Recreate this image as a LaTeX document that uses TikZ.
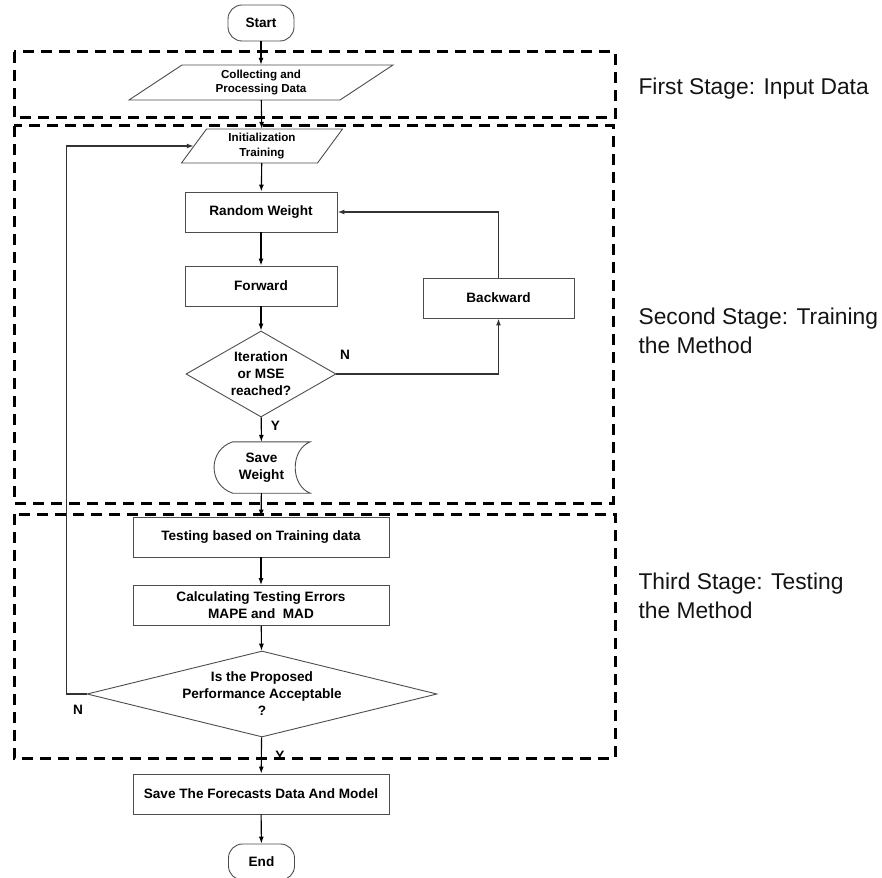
\documentclass[tikz,border=0pt]{standalone}
\usepackage{fontspec}
\setmainfont{Liberation Sans}
\usetikzlibrary{shapes.geometric,arrows.meta,calc}
\newcommand\flowfnt{\bfseries\fontsize{13.6}{17}\selectfont}
\newcommand\smallflowfnt{\bfseries\fontsize{11.6}{14.7}\selectfont}
\newcommand\stagefnt{\fontsize{22.8}{29}\selectfont}
\begin{document}
\begin{tikzpicture}[x=1pt,y=-1pt,
  outl/.style={draw=black!70, line width=0.9pt},
  procbox/.style={outl, minimum width=#1, minimum height=40pt, inner sep=0pt, align=center, font=\flowfnt},
  termbox/.style={outl, rounded corners=14pt, minimum width=66pt, minimum height=36pt, inner sep=0pt, font=\flowfnt},
  decision/.style={outl, diamond, inner sep=0pt, align=center, font=\flowfnt},
  plainshape/.style={inner sep=0pt, align=center},
  arr/.style={draw=black, line width=1.1pt, -{Latex[length=7pt,width=5pt]}},
  loopline/.style={draw=black!80, line width=1.4pt, -{Latex[length=7pt,width=5pt]}},
  stagebox/.style={draw=black, line width=3pt, dash pattern=on 11pt off 7pt},
  stagetext/.style={anchor=base west, align=left, font=\stagefnt, text=black!92},
  yn/.style={font=\flowfnt, inner sep=0pt}
]
\useasboundingbox (0,0) rectangle (882,877);

% stage frames
\draw[stagebox] (14,52) rectangle (615,118);
\draw[stagebox] (14,126) rectangle (613,503);
\draw[stagebox] (14,514) rectangle (615,758);

% stage labels
\node[stagetext] (s1) at (635,95) {First Stage: Input Data};
\node[stagetext] (s2) at (635,353) {Second Stage: Training\\the Method};
\node[stagetext] (s3) at (635,618) {Third Stage: Testing\\the Method};

% nodes
\node[termbox] (start) at (261,23) {Start};

\node[plainshape, minimum width=211pt, minimum height=35pt, font=\smallflowfnt] (collect) at (261,82.5) {Collecting and\\Processing Data};
\draw[outl] ($(collect.center)+(-79,-17.5)$) -- ($(collect.center)+(132,-17.5)$)
  -- ($(collect.center)+(79,17.5)$) -- ($(collect.center)+(-132,17.5)$) -- cycle;

\node[plainshape, minimum width=136pt, minimum height=34pt, font=\smallflowfnt] (init) at (262,146) {Initialization\\Training};
\draw[outl] ($(init.center)+(-55.5,-17)$) -- ($(init.center)+(80.5,-17)$)
  -- ($(init.center)+(55.5,17)$) -- ($(init.center)+(-80.5,17)$) -- cycle;

\node[procbox=152pt] (rw) at (261,212) {Random Weight};
\node[procbox=152pt] (fw) at (261,286) {Forward};
\node[procbox=151pt] (back) at (498.5,298) {Backward};
\node[decision, minimum width=150pt, minimum height=86pt, aspect=1.744] (d1) at (261,374) {Iteration\\or MSE\\reached?};

\node[plainshape, minimum width=97pt, minimum height=51pt, font=\flowfnt] (sw) at (261.5,467.5) {Save\\Weight};
\draw[outl] ($(sw.north west)+(20,0)$) -- (sw.north east)
  .. controls +(-20,8) and +(-20,-8) .. (sw.south east)
  -- ($(sw.south west)+(20,0)$)
  .. controls +(-25,-8) and +(-25,8) .. ($(sw.north west)+(20,0)$);

\node[procbox=256pt] (test) at (261,537) {Testing based on Training data};
\node[procbox=256pt] (calc) at (261,605.5) {Calculating Testing Errors\\MAPE and~ MAD};
\node[decision, minimum width=350pt, minimum height=86pt, aspect=4.07, inner xsep=-8pt, inner ysep=-2pt] (d2) at (262,694) {Is the Proposed\\Performance Acceptable\\?};
\node[procbox=256pt] (savef) at (261,794) {Save The Forecasts Data And Model};
\node[termbox] (end) at (261.5,862) {End};

% connectors
\draw[arr] (start) -- (collect);
\draw[arr] (collect) -- (init);
\draw[arr] (init) -- (rw);
\draw[arr] (rw) -- (fw);
\draw[arr] (fw) -- (d1);
\draw[arr] (d1) -- node[yn, right=9pt, pos=0.35] {Y} (sw);
\draw[loopline] (d1.east) -| (back.south);
\draw[loopline] (back.north) |- (rw.east);
\node[yn] (n1) at (345,355) {N};
\draw[arr] (sw) -- (test);
\draw[arr] (test) -- (calc);
\draw[arr] (calc) -- (d2);
\draw[arr] (d2) -- (savef);
\node[yn] (y2) at (280,756) {Y};
\draw[arr] (savef) -- (end);
\draw[loopline] (d2.west) -- ++(-20,0) |- (init.west);
\node[yn] (n2) at (78,710) {N};
\end{tikzpicture}
\end{document}
